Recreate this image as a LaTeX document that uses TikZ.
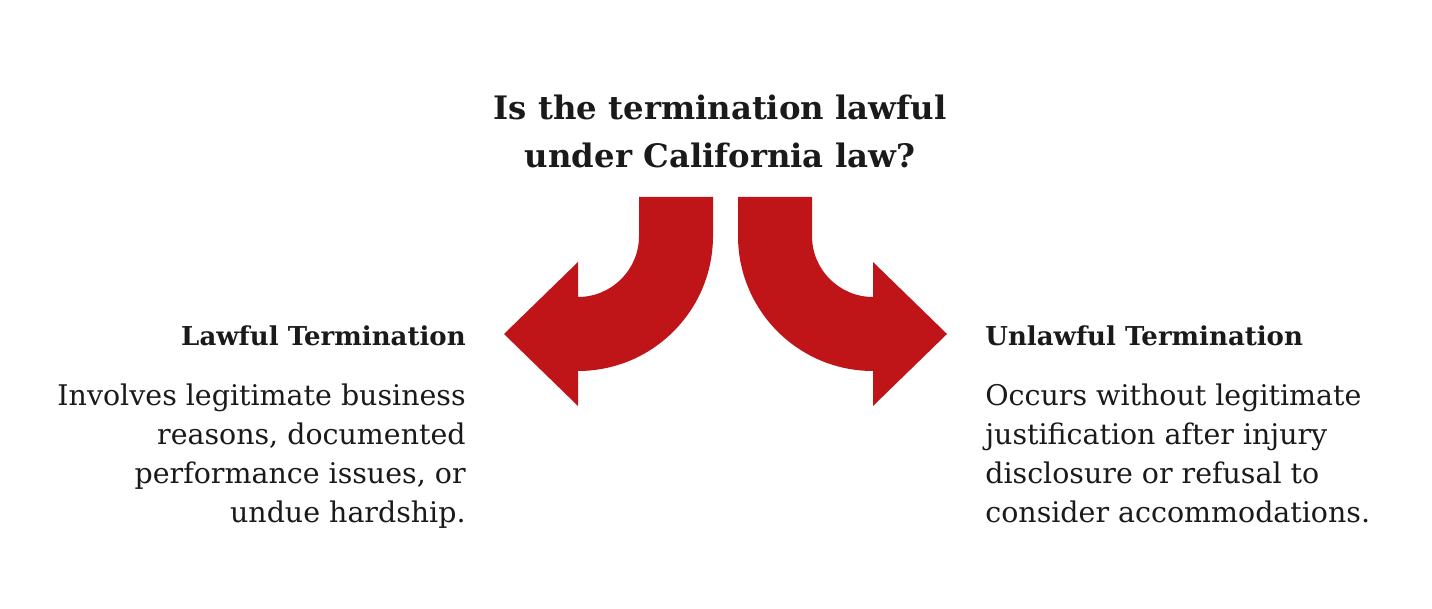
\documentclass[tikz,border=0pt]{standalone}
\usepackage{fontspec}
\setmainfont{DejaVu Serif}
\definecolor{arrowred}{RGB}{192,21,24}
\definecolor{textdark}{RGB}{26,26,26}

\begin{document}
\begin{tikzpicture}[x=0.02cm, y=0.02cm,
        title/.style={align=center, text=textdark, font=\bfseries\fontsize{18.4}{27.3}\selectfont},
        heading/.style={text=textdark, font=\bfseries\fontsize{14.8}{20}\selectfont, inner sep=0pt},
        body/.style={text=textdark, font=\fontsize{16.2}{22.2}\selectfont, inner sep=0pt}]

        % Canvas
        \useasboundingbox (0,0) rectangle (1432,608);

        % Question
        \node[title] (question) at (720,477) {Is the termination lawful\\under California law?};

        % Left arrow (lawful)
        \fill[arrowred] (639,411) -- (639,372) arc[start angle=0, end angle=-90, radius=61]
            -- (578,346) -- (504,274) -- (578,202) -- (578,237)
            arc[start angle=-90, end angle=0, radius=135] -- (713,411) -- cycle;

        % Right arrow (unlawful)
        \fill[arrowred] (812,411) -- (812,372) arc[start angle=180, end angle=270, radius=61]
            -- (873,346) -- (947,274) -- (873,202) -- (873,237)
            arc[start angle=270, end angle=180, radius=135] -- (738,411) -- cycle;

        % Lawful side
        \node[heading, anchor=base east] (lawful) at (466,262) {Lawful Termination};
        \node[body, align=right, anchor=north east] (lawfultext) at (466,224)
            {Involves legitimate business\\reasons, documented\\performance issues, or\\undue hardship.};

        % Unlawful side
        \node[heading, anchor=base west] (unlawful) at (985,262) {Unlawful Termination};
        \node[body, align=left, anchor=north west] (unlawfultext) at (985,224)
            {Occurs without legitimate\\justification after injury\\disclosure or refusal to\\consider accommodations.};

\end{tikzpicture}
\end{document}
